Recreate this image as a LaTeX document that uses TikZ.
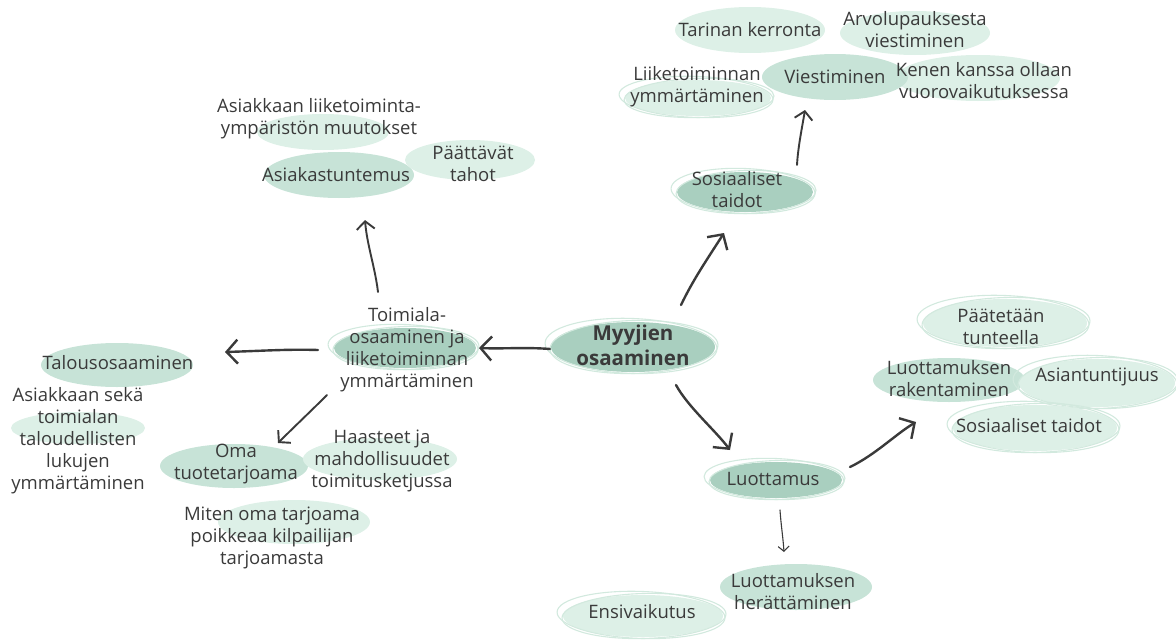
\documentclass[tikz,border=0pt]{standalone}
\usepackage{fontspec}
\setmainfont{Open Sans}
\usetikzlibrary{arrows.meta,calc}

\definecolor{mintdark}{HTML}{A9CFBF}
\definecolor{mintmid}{HTML}{C7E3D7}
\definecolor{mintlight}{HTML}{DDF0E7}
\definecolor{mintline}{HTML}{D2E9DE}
\definecolor{ink}{HTML}{3A3A3A}

% plain filled blob: x, y, x radius, y radius, colour
\newcommand\blob[5]{%
  \fill[#5] (#1,#2) ellipse [x radius=#3pt, y radius=#4pt];}
% filled blob with a sketchy double outline
\newcommand\ringblob[5]{%
  \fill[#5] (#1,#2) ellipse [x radius=#3pt, y radius=#4pt];
  \draw[ringline, rotate around={-2:(#1,#2)}] (#1-2,#2-1) ellipse [x radius=#3pt+4pt, y radius=#4pt+2.5pt];
  \draw[ringline, rotate around={1.5:(#1,#2)}] (#1+1,#2) ellipse [x radius=#3pt+2pt, y radius=#4pt+1.5pt];}

\tikzset{
  ringline/.style={draw=mintline, line width=1.1pt},
  lbl/.style={text=ink, align=center, inner sep=0pt, font=\fontsize{18.5}{22}\selectfont},
  hub/.style={text=ink, align=center, inner sep=0pt, font=\fontsize{20.5}{25}\selectfont\bfseries},
  arrthick/.style={draw=ink, line width=2.4pt, line cap=round, -{Straight Barb[length=11pt,width=24pt,line width=2.4pt]}},
  arrmid/.style={draw=ink, line width=1.9pt, line cap=round, -{Straight Barb[length=8pt,width=18pt,line width=1.9pt]}},
  arrthin/.style={draw=ink, line width=1.1pt, line cap=round, -{Straight Barb[length=5pt,width=11pt,line width=1.1pt]}},
}

\begin{document}
\begin{tikzpicture}[x=1pt,y=-1pt]
\useasboundingbox (0,0) rectangle (1176,640);

% ---- background blobs ----
% left branch
\blob{323}{132}{66}{18}{mintlight}
\blob{339}{175}{75}{23}{mintmid}
\blob{470}{160}{65}{20}{mintlight}
\ringblob{405}{348}{71}{20}{mintdark}
\blob{117}{365}{76}{22}{mintmid}
\blob{78}{428}{67}{16}{mintlight}
\blob{234}{466}{74}{22}{mintmid}
\blob{380}{459}{77}{21}{mintlight}
\blob{294}{522}{76}{22}{mintlight}
% upper right branch
\blob{750}{30}{75}{23}{mintlight}
\blob{915}{33}{75}{22}{mintlight}
\blob{978}{78}{82}{23}{mintlight}
\blob{835}{77}{73}{23}{mintmid}
\ringblob{698}{98}{73}{18}{mintlight}
\ringblob{745}{192}{68}{20}{mintdark}
% centre
\ringblob{633}{347}{82}{25}{mintdark}
% lower right branch
\ringblob{1005}{323}{82}{24}{mintlight}
\blob{949}{380}{76}{22}{mintmid}
\ringblob{1097}{383}{78}{24}{mintlight}
\ringblob{1035}{428}{82}{23}{mintlight}
\ringblob{776}{480}{66}{18}{mintdark}
\blob{796}{587}{76}{23}{mintmid}
\ringblob{643}{616}{80}{21}{mintlight}

% ---- labels ----
\node[hub] (cen) at (633,345) {Myyjien\\osaaminen};

\node[lbl] (toim) at (407,350) {Toimiala-\\osaaminen ja\\liiketoiminnan\\ymmärtäminen};
\node[lbl] (talous) at (118,363) {Talousosaaminen};
\node[lbl] (luvut) at (78,441) {Asiakkaan sekä\\toimialan\\taloudellisten\\lukujen\\ymmärtäminen};
\node[lbl] (oma) at (236,464) {Oma\\tuotetarjoama};
\node[lbl] (haast) at (382,461) {Haasteet ja\\mahdollisuudet\\toimitusketjussa};
\node[lbl] (miten) at (272,538) {Miten oma tarjoama\\poikkeaa kilpailijan\\tarjoamasta};
\node[lbl] (asiak) at (336,175) {Asiakastuntemus};
\node[lbl] (paatt) at (473,164) {Päättävät\\tahot};
\node[lbl] (ymparisto) at (319,119) {Asiakkaan liiketoiminta-\\ympäristön muutokset};

\node[lbl] (sos) at (737,190) {Sosiaaliset\\taidot};
\node[lbl] (viest) at (835,77) {Viestiminen};
\node[lbl] (liike) at (697,87) {Liiketoiminnan\\ymmärtäminen};
\node[lbl] (tarina) at (750,30) {Tarinan kerronta};
\node[lbl] (arvo) at (915,30) {Arvolupauksesta\\viestiminen};
\node[lbl] (kenen) at (984,81) {Kenen kanssa ollaan\\vuorovaikutuksessa};

\node[lbl] (luott) at (773,479) {Luottamus};
\node[lbl] (rak) at (949,379) {Luottamuksen\\rakentaminen};
\node[lbl] (paat) at (1001,327) {Päätetään\\tunteella};
\node[lbl] (asiant) at (1097,377) {Asiantuntijuus};
\node[lbl] (sostaid) at (1029,426) {Sosiaaliset taidot};
\node[lbl] (her) at (793,592) {Luottamuksen\\herättäminen};
\node[lbl] (ensi) at (642,612) {Ensivaikutus};

% ---- connector end points ----
\coordinate (cenNE) at ($(cen)+(48,-40)$);
\coordinate (cenW)  at ($(cen)+(-83,4)$);
\coordinate (cenSE) at ($(cen)+(43,40)$);
\coordinate (sosS)  at ($(sos)+(-13,43)$);
\coordinate (toimE) at ($(toim)+(72,-2)$);
\coordinate (toimW) at ($(toim)+(-89,0)$);
\coordinate (toimSW) at ($(toim)+(-80,45)$);
\coordinate (toimN) at ($(toim)+(-29,-58)$);
\coordinate (talE)  at ($(talous)+(107,-11)$);
\coordinate (omaN)  at ($(oma)+(42,-21)$);
\coordinate (asiakS) at ($(asiak)+(29,45)$);
\coordinate (sosN)  at ($(sos)+(60,-25)$);
\coordinate (viestS) at ($(viest)+(-30,33)$);
\coordinate (luottNW) at ($(luott)+(-43,-29)$);
\coordinate (luottE) at ($(luott)+(77,-12)$);
\coordinate (luottS) at ($(luott)+(7,31)$);
\coordinate (rakS)  at ($(rak)+(-33,43)$);
\coordinate (herN)  at ($(her)+(-9,-40)$);

% ---- connectors ----
\draw[arrthick] (cenNE) .. controls ($(cenNE)+(12,-25)$) and ($(sosS)+(-18,28)$) .. (sosS);
\draw[arrthick] (cenW) .. controls ($(cenW)+(-25,-2)$) and ($(toimE)+(25,1)$) .. (toimE);
\draw[arrthick] (cenSE) .. controls ($(cenSE)+(12,22)$) and ($(luottNW)+(-15,-20)$) .. (luottNW);
\draw[arrthick] (toimW) .. controls ($(toimW)+(-30,-1)$) and ($(talE)+(35,-1)$) .. (talE);
\draw[arrmid] (toimSW) .. controls ($(toimSW)+(-15,15)$) and ($(omaN)+(15,-15)$) .. (omaN);
\draw[arrmid] (toimN) .. controls ($(toimN)+(-3,-25)$) and ($(asiakS)+(2,25)$) .. (asiakS);
\draw[arrmid] (sosN) .. controls ($(sosN)+(1,-18)$) and ($(viestS)+(-3,18)$) .. (viestS);
\draw[arrthick] (luottE) .. controls ($(luottE)+(25,-12)$) and ($(rakS)+(-20,12)$) .. (rakS);
\draw[arrthin] (luottS) .. controls ($(luottS)+(1,15)$) and ($(herN)+(-1,-15)$) .. (herN);

\end{tikzpicture}
\end{document}
